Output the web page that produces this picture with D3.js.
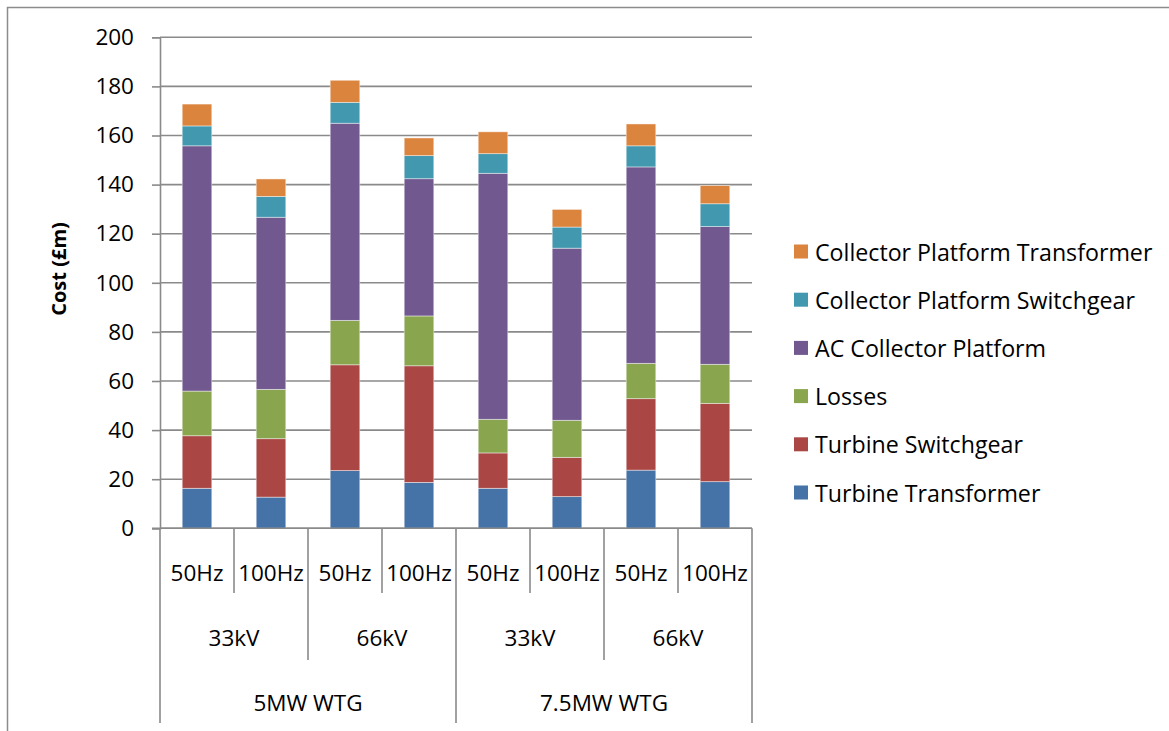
<!DOCTYPE html>
<html>
<head>
<meta charset="utf-8">
<script src="https://cdn.jsdelivr.net/npm/d3@7"></script>
<style>
  body { margin: 0; background: #fff; }
  svg { display: block; font-family: "Open Sans", sans-serif; }
</style>
</head>
<body>
<svg id="chart" width="1169" height="731"></svg>
<script>
// categories (three-level axis)
const turbines = ["5MW WTG", "7.5MW WTG"];
const voltages = ["33kV", "66kV"];
const freqs = ["50Hz", "100Hz"];

// series values, one per bar (left to right)
const turbineTransformer = [16.3, 12.7, 23.5, 18.7, 16.3, 12.9, 23.7, 19.0];
const turbineSwitchgear = [21.4, 23.8, 43.1, 47.5, 14.4, 16.0, 29.1, 31.9];
const losses = [18.2, 20.1, 18.1, 20.3, 13.7, 15.1, 14.4, 15.9];
const acCollectorPlatform = [99.9, 70.1, 80.3, 55.9, 100.2, 70.1, 80.0, 56.1];
const collectorSwitchgear = [8.1, 8.5, 8.5, 9.4, 8.0, 8.6, 8.6, 9.3];
const collectorTransformer = [8.9, 7.1, 9.0, 7.2, 8.9, 7.2, 8.9, 7.4];

const yTicks = [0, 20, 40, 60, 80, 100, 120, 140, 160, 180, 200];

const seriesNames = [
  "Turbine Transformer",
  "Turbine Switchgear",
  "Losses",
  "AC Collector Platform",
  "Collector Platform Switchgear",
  "Collector Platform Transformer",
];
const seriesValues = [turbineTransformer, turbineSwitchgear, losses,
  acCollectorPlatform, collectorSwitchgear, collectorTransformer];
const colors = ["#4572a7", "#aa4643", "#89a54e", "#71588f", "#4198af", "#db843d"];

// build rows for the stack
const rows = [];
turbines.forEach((t) => {
  voltages.forEach((v) => {
    freqs.forEach((f) => {
      const i = rows.length;
      const row = { turbine: t, voltage: v, freq: f, idx: i };
      seriesNames.forEach((s, k) => { row[s] = seriesValues[k][i]; });
      rows.push(row);
    });
  });
});

const svg = d3.select("#chart");
const gridColor = "#8a8a8a";
const plot = { left: 160, right: 752, top: 37.3, bottom: 528.3 };

// outer chart border
svg.append("rect")
  .attr("x", 7.5).attr("y", 7.5)
  .attr("width", 1180).attr("height", 740)
  .attr("fill", "none")
  .attr("stroke", "#8c8c8c")
  .attr("stroke-width", 1.5);

const x = d3.scaleBand()
  .domain(rows.map((d) => d.idx))
  .range([plot.left, plot.right])
  .paddingInner(0.6)
  .paddingOuter(0.3);

const y = d3.scaleLinear()
  .domain([0, 200])
  .range([plot.bottom, plot.top]);

// gridlines
svg.append("g")
  .selectAll("line")
  .data(yTicks)
  .join("line")
  .attr("x1", plot.left).attr("x2", plot.right)
  .attr("y1", (d) => y(d)).attr("y2", (d) => y(d))
  .attr("stroke", gridColor)
  .attr("stroke-width", 1.6);

// y axis
const yAxis = svg.append("g")
  .attr("transform", `translate(${plot.left},0)`)
  .call(d3.axisLeft(y).tickValues(yTicks).tickSize(8).tickPadding(18));
yAxis.select(".domain").attr("stroke", gridColor).attr("stroke-width", 1.6);
yAxis.selectAll(".tick line").attr("stroke", gridColor).attr("stroke-width", 1.6);
yAxis.selectAll(".tick text")
  .attr("fill", "#000")
  .style("font-size", "22.5px")
  .style("font-family", "Open Sans, sans-serif");

svg.append("text")
  .attr("transform", "translate(58,269) rotate(-90)")
  .attr("text-anchor", "middle")
  .attr("dominant-baseline", "central")
  .style("font-size", "20px")
  .style("font-weight", "bold")
  .text("Cost (£m)");

// stacked bars
const stack = d3.stack().keys(seriesNames);
const layers = stack(rows);

svg.append("g")
  .selectAll("g")
  .data(layers)
  .join("g")
  .attr("fill", (d, i) => colors[i])
  .selectAll("rect")
  .data((d) => d)
  .join("rect")
  .attr("x", (d) => x(d.data.idx))
  .attr("width", x.bandwidth())
  .attr("y", (d) => y(d[1]))
  .attr("height", (d) => y(d[0]) - y(d[1]))
  .attr("stroke", "#ffffff")
  .attr("stroke-opacity", 0.55)
  .attr("stroke-width", 0.8);

// multi-level category axis
const step = x.step();
const axisG = svg.append("g");
axisG.append("line")
  .attr("x1", plot.left - 8).attr("x2", plot.right)
  .attr("y1", plot.bottom).attr("y2", plot.bottom)
  .attr("stroke", gridColor).attr("stroke-width", 1.6);

const rowBottoms = [593, 660, 723];
const labelY = [572, 637, 702];
const boundaries = d3.range(rows.length + 1);
axisG.selectAll("line.sep")
  .data(boundaries)
  .join("line")
  .attr("class", "sep")
  .attr("x1", (k) => plot.left + k * step)
  .attr("x2", (k) => plot.left + k * step)
  .attr("y1", plot.bottom)
  .attr("y2", (k) => (k % 4 === 0 ? rowBottoms[2] : k % 2 === 0 ? rowBottoms[1] : rowBottoms[0]))
  .attr("stroke", gridColor)
  .attr("stroke-width", 1.6);

axisG.selectAll("text.freq")
  .data(rows)
  .join("text")
  .attr("class", "freq")
  .attr("x", (d) => x(d.idx) + x.bandwidth() / 2)
  .attr("y", labelY[0])
  .attr("text-anchor", "middle")
  .attr("dominant-baseline", "central")
  .style("font-size", "22.5px")
  .text((d) => d.freq);

const voltGroups = d3.groups(rows, (d) => d.turbine + "|" + d.voltage);
axisG.selectAll("text.volt")
  .data(voltGroups)
  .join("text")
  .attr("class", "volt")
  .attr("x", (d, i) => plot.left + (i * 2 + 1) * step)
  .attr("y", labelY[1])
  .attr("text-anchor", "middle")
  .attr("dominant-baseline", "central")
  .style("font-size", "22.5px")
  .text((d) => d[1][0].voltage);

axisG.selectAll("text.turb")
  .data(turbines)
  .join("text")
  .attr("class", "turb")
  .attr("x", (d, i) => plot.left + (i * 4 + 2) * step)
  .attr("y", labelY[2])
  .attr("text-anchor", "middle")
  .attr("dominant-baseline", "central")
  .style("font-size", "22.5px")
  .text((d) => d);

// legend (reverse order, top entry = last series)
const legend = svg.append("g").attr("transform", "translate(794,251.5)");
const legendItems = seriesNames.map((s, i) => ({ name: s, color: colors[i] })).reverse();
const item = legend.selectAll("g")
  .data(legendItems)
  .join("g")
  .attr("transform", (d, i) => `translate(0,${i * 48.2})`);
item.append("rect")
  .attr("x", 0).attr("y", -7)
  .attr("width", 14).attr("height", 14)
  .attr("fill", (d) => d.color);
item.append("text")
  .attr("x", 21)
  .attr("y", 0)
  .attr("dominant-baseline", "central")
  .style("font-size", "23.2px")
  .text((d) => d.name);
</script>
</body>
</html>
